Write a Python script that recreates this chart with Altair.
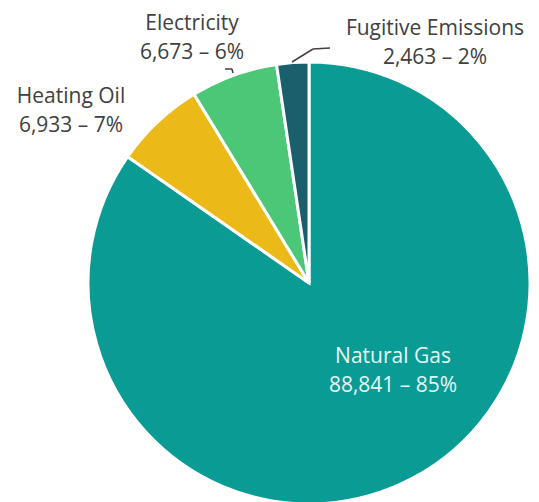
import altair as alt
import pandas as pd

categories = ["Natural Gas", "Heating Oil", "Electricity", "Fugitive Emissions"]
values = [88841, 6933, 6673, 2463]
colors = ["#0A9B95", "#EBBA18", "#4CC778", "#1B5E6C"]

total = sum(values)
labels = [f"{c}\n{v:,} – {round(v * 100 / total)}%" for c, v in zip(categories, values)]
df = pd.DataFrame({"category": categories, "value": values, "label": labels,
                   "order": list(range(len(categories)))})

W, H = 523, 494
CX, CY, R = 301, 275, 221
FONT = "Open Sans"

pie = alt.Chart(df).mark_arc(stroke="white", strokeWidth=3, radius=R).encode(
    theta=alt.Theta("value:Q", stack=True),
    order=alt.Order("order:Q"),
    color=alt.Color("category:N", scale=alt.Scale(domain=categories, range=colors), legend=None),
    x=alt.value(CX), y=alt.value(CY),
)

def label(cat, x, y, color="#404040"):
    return alt.Chart(df).transform_filter(alt.datum.category == cat).mark_text(
        font=FONT, fontSize=21, lineBreak="\n", lineHeight=29, align="center",
        baseline="middle", color=color,
    ).encode(x=alt.value(x), y=alt.value(y), text="label:N")

texts = [
    label("Natural Gas", 385, 349, "#E6F7F4"),
    label("Heating Oil", 63, 89),
    label("Electricity", 184, 16),
    label("Fugitive Emissions", 427, 21),
]

def seg(x1, y1, x2, y2):
    return alt.Chart(df).transform_filter(alt.datum.order == 0).mark_rule(
        color="#404040", strokeWidth=1.5).encode(
        x=alt.value(x1), y=alt.value(y1), x2=alt.value(x2), y2=alt.value(y2))

leaders = [
    seg(284, 54, 305, 41),
    seg(305, 41, 322, 40),
    seg(217, 61, 224, 61),
    seg(224, 61, 225, 65),
]

chart = alt.layer(pie, *texts, *leaders).properties(
    width=W, height=H, padding=0, autosize=alt.AutoSizeParams(type="none")
).configure_view(stroke=None)

chart.save("out.html", embed_options={"renderer": "svg", "actions": False})
